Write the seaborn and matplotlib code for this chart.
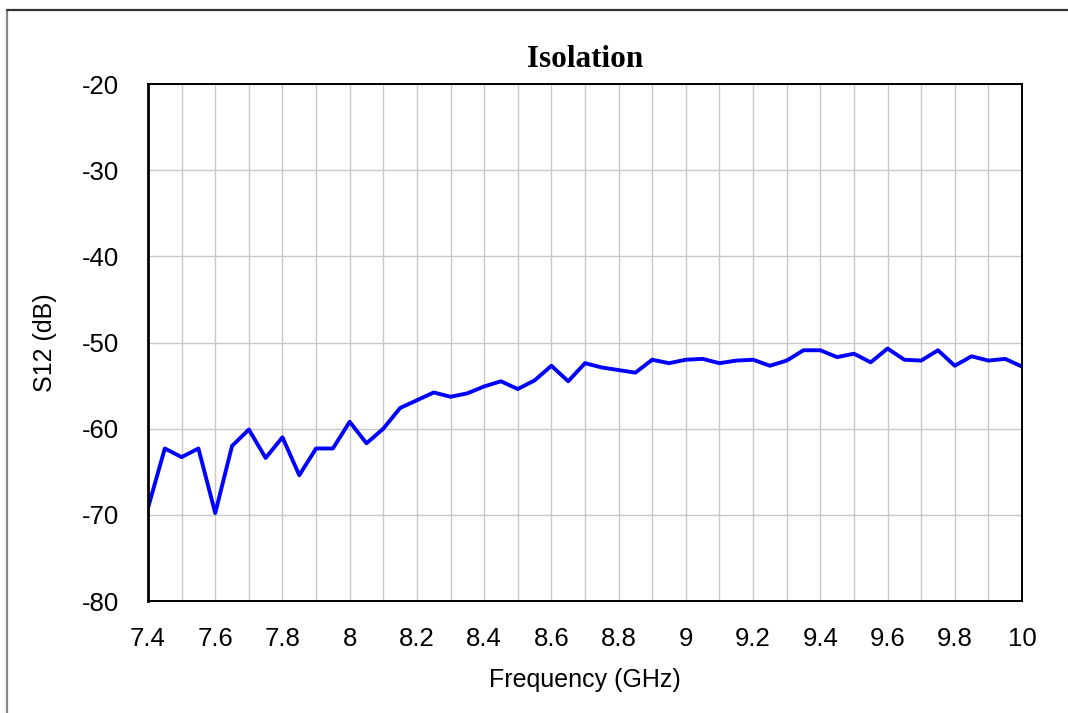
import numpy as np
import pandas as pd
import matplotlib
matplotlib.use("Agg")
import matplotlib.pyplot as plt
from matplotlib.lines import Line2D
import seaborn as sns

freq_ghz = [7.40, 7.45, 7.50, 7.55, 7.60, 7.65, 7.70, 7.75, 7.80, 7.85,
            7.90, 7.95, 8.00, 8.05, 8.10, 8.15, 8.20, 8.25, 8.30, 8.35,
            8.40, 8.45, 8.50, 8.55, 8.60, 8.65, 8.70, 8.75, 8.80, 8.85,
            8.90, 8.95, 9.00, 9.05, 9.10, 9.15, 9.20, 9.25, 9.30, 9.35,
            9.40, 9.45, 9.50, 9.55, 9.60, 9.65, 9.70, 9.75, 9.80, 9.85,
            9.90, 9.95, 10.00]
s12_db = [-69.2, -62.3, -63.3, -62.3, -69.8, -62.0, -60.1, -63.4, -61.0, -65.4,
          -62.3, -62.3, -59.2, -61.7, -60.0, -57.6, -56.7, -55.8, -56.3, -55.9,
          -55.1, -54.5, -55.4, -54.4, -52.7, -54.5, -52.4, -52.9, -53.2, -53.5,
          -52.0, -52.4, -52.0, -51.9, -52.4, -52.1, -52.0, -52.7, -52.1, -50.9,
          -50.9, -51.7, -51.3, -52.3, -50.7, -52.0, -52.1, -50.9, -52.7, -51.6,
          -52.1, -51.9, -52.8]

x_ticks = [7.4, 7.6, 7.8, 8.0, 8.2, 8.4, 8.6, 8.8, 9.0, 9.2, 9.4, 9.6, 9.8, 10.0]
x_tick_labels = ["7.4", "7.6", "7.8", "8", "8.2", "8.4", "8.6", "8.8", "9",
                 "9.2", "9.4", "9.6", "9.8", "10"]
y_ticks = [-80, -70, -60, -50, -40, -30, -20]
y_tick_labels = ["-80", "-70", "-60", "-50", "-40", "-30", "-20"]

title_text = "Isolation"
x_label = "Frequency (GHz)"
y_label = "S12 (dB)"

sns.set_style("white")
plt.rcParams["font.family"] = ["Liberation Sans", "DejaVu Sans"]
plt.rcParams["text.color"] = "black"
plt.rcParams["axes.labelcolor"] = "black"
plt.rcParams["xtick.color"] = "black"
plt.rcParams["ytick.color"] = "black"

df = pd.DataFrame({"freq": freq_ghz, "s12": s12_db})

fig = plt.figure(figsize=(10.68, 7.13), dpi=100)
fig.patch.set_facecolor("white")
ax = fig.add_axes([148 / 1068, 1 - 601 / 713, (1022 - 148) / 1068, (601 - 84) / 713])

# grid (every 0.1 GHz and every 10 dB)
ax.set_xticks(np.arange(7.4, 10.0001, 0.1), minor=True)
ax.set_xticks(x_ticks)
ax.set_xticklabels(x_tick_labels)
ax.set_yticks(y_ticks)
ax.set_yticklabels(y_tick_labels)
ax.grid(True, which="both", axis="x", color="#c8c8c8", linewidth=1.0)
ax.grid(True, which="major", axis="y", color="#c8c8c8", linewidth=1.0)
ax.set_axisbelow(True)

sns.lineplot(data=df, x="freq", y="s12", ax=ax, color="#0000ff", linewidth=2.8)

ax.set_xlim(7.4, 10.0)
ax.set_ylim(-80, -20)
ax.tick_params(axis="both", which="both", length=0, labelsize=18.5, colors="black")
ax.tick_params(axis="x", pad=19)
ax.tick_params(axis="y", pad=21)

for s in ax.spines.values():
    s.set_visible(True)
    s.set_color("black")
    s.set_linewidth(1.4)
ax.spines["left"].set_linewidth(2.0)

ax.set_xlabel(x_label, fontsize=18, labelpad=12, color="black")
ax.set_ylabel(y_label, fontsize=18, labelpad=18, color="black")
ax.set_title(title_text, fontsize=22.5, fontweight="bold", color="black",
             family=["Liberation Serif", "DejaVu Serif"], pad=12)

# outer frame of the figure
fig.add_artist(Line2D([6.5 / 1068, 6.5 / 1068], [0, 1 - 9.5 / 713],
                      transform=fig.transFigure, color="#888888", linewidth=1.6))
fig.add_artist(Line2D([6.5 / 1068, 1.0], [1 - 9.5 / 713, 1 - 9.5 / 713],
                      transform=fig.transFigure, color="#333333", linewidth=1.6))

fig.savefig("out.png", dpi=100, facecolor="white")
